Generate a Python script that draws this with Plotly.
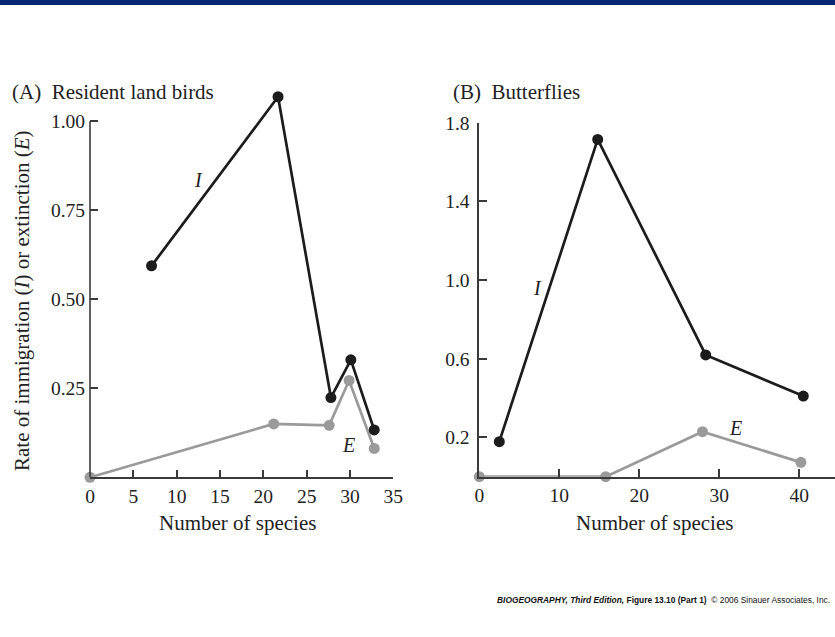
import plotly.graph_objects as go

# Panel A: Resident land birds
birds_I_x = [7.1, 21.7, 27.8, 30.1, 32.8]
birds_I_y = [0.594, 1.069, 0.224, 0.330, 0.133]
birds_E_x = [0.0, 21.2, 27.6, 29.9, 32.8]
birds_E_y = [0.0, 0.150, 0.146, 0.272, 0.081]
birds_xticks = [0, 5, 10, 15, 20, 25, 30, 35]
birds_yticks = [0.25, 0.50, 0.75, 1.00]
birds_ytick_labels = ["0.25", "0.50", "0.75", "1.00"]

# Panel B: Butterflies
bfly_I_x = [2.5, 14.8, 28.3, 40.5]
bfly_I_y = [0.178, 1.715, 0.619, 0.410]
bfly_E_x = [0.0, 15.8, 27.9, 40.2]
bfly_E_y = [0.0, 0.0, 0.229, 0.073]
bfly_xticks = [0, 10, 20, 30, 40]
bfly_yticks = [0.2, 0.6, 1.0, 1.4, 1.8]
bfly_ytick_labels = ["0.2", "0.6", "1.0", "1.4", "1.8"]

W, H = 835, 637
SERIF = "Liberation Serif, Times New Roman, serif"
BLACK = "#1c1c1c"
GRAY = "#9a9a9a"
AX = "#3a3a3a"

def px_x(p):
    return p / W

def px_y(p):
    return 1 - p / H

fig = go.Figure()

def add_series(x, y, color, xa, ya):
    fig.add_trace(go.Scatter(
        x=x, y=y, mode="lines+markers", xaxis=xa, yaxis=ya,
        line=dict(color=color, width=2.7),
        marker=dict(color=color, size=11),
        cliponaxis=False, showlegend=False, hoverinfo="x+y"))

# draw E first so I is on top
add_series(birds_E_x, birds_E_y, GRAY, "x", "y")
add_series(birds_I_x, birds_I_y, BLACK, "x", "y")
add_series(bfly_E_x, bfly_E_y, GRAY, "x2", "y2")
add_series(bfly_I_x, bfly_I_y, BLACK, "x2", "y2")

axis_common = dict(
    showgrid=False, zeroline=False, linecolor=AX, linewidth=1.6,
    ticks="inside", ticklen=8, tickwidth=1.6, tickcolor=AX, automargin=False,
    tickfont=dict(family=SERIF, size=19.5, color="#222"),
)

# Panel A: y scale 356 px per unit, zero at 477.3 px; extend range above 1.0 so the peak is not clipped
A_PX_PER_UNIT = 356.0
A_TOP = 1.12

fig.update_layout(
    width=W, height=H,
    margin=dict(l=0, r=0, t=0, b=0, pad=0, autoexpand=False),
    paper_bgcolor="white", plot_bgcolor="white",
    xaxis=dict(domain=[px_x(90), px_x(393.3)], range=[0, 35], tickvals=birds_xticks,
               anchor="y", ticklabelstandoff=0, showline=True, **axis_common),
    yaxis=dict(domain=[px_y(477.3), px_y(477.3 - A_TOP * A_PX_PER_UNIT)], range=[0, A_TOP],
               tickvals=birds_yticks, ticktext=birds_ytick_labels, anchor="x",
               ticklabelstandoff=4, showline=False, **axis_common),
    xaxis2=dict(domain=[px_x(479.3), 1.0], range=[0, (835 - 479.3) / 8.0], tickvals=bfly_xticks,
                anchor="y2", ticklabelstandoff=0, showline=True, **axis_common),
    yaxis2=dict(domain=[px_y(476.7), px_y(122.7)], range=[0, 1.8], tickvals=bfly_yticks,
                ticktext=bfly_ytick_labels, anchor="x2", ticklabelstandoff=4, showline=True,
                **axis_common),
)

# Panel A y-axis line, ending at the top tick (1.00)
fig.add_shape(type="line", xref="x domain", yref="y", x0=0, x1=0, y0=0, y1=birds_yticks[-1],
              line=dict(color=AX, width=1.6), layer="above")

def ann(text, x, y, size=21, xanchor="center", yanchor="middle", angle=0, family=SERIF, color="#222"):
    fig.add_annotation(text=text, x=px_x(x), y=px_y(y), xref="paper", yref="paper",
                       showarrow=False, xanchor=xanchor, yanchor=yanchor, textangle=angle,
                       font=dict(family=family, size=size, color=color))

# Titles
ann("(A)  Resident land birds", 10, 92, xanchor="left")
ann("(B)  Butterflies", 451, 92, xanchor="left")
# Axis titles
ann("Rate of immigration (<i>I</i>) or extinction (<i>E</i>)", 22, 301, angle=-90)
ann("Number of species", 238, 523)
ann("Number of species", 654, 523)
# Curve labels
ann("<i>I</i>", 198, 180, size=20)
ann("<i>E</i>", 348, 445, size=20)
ann("<i>I</i>", 537, 288, size=20)
ann("<i>E</i>", 735, 428, size=20)

# Footer
ann("<b><i>BIOGEOGRAPHY, Third Edition,</i></b> <b>Figure 13.10 (Part 1)</b>  © 2006 Sinauer Associates, Inc.",
    832, 600, size=8.4, xanchor="right", family="Liberation Sans, Arial, sans-serif", color="#111")

# Top bar
fig.add_shape(type="rect", xref="paper", yref="paper", x0=0, x1=1, y0=px_y(5), y1=1,
              fillcolor="#002776", line=dict(width=0), layer="above")

fig.write_html("out.html")
